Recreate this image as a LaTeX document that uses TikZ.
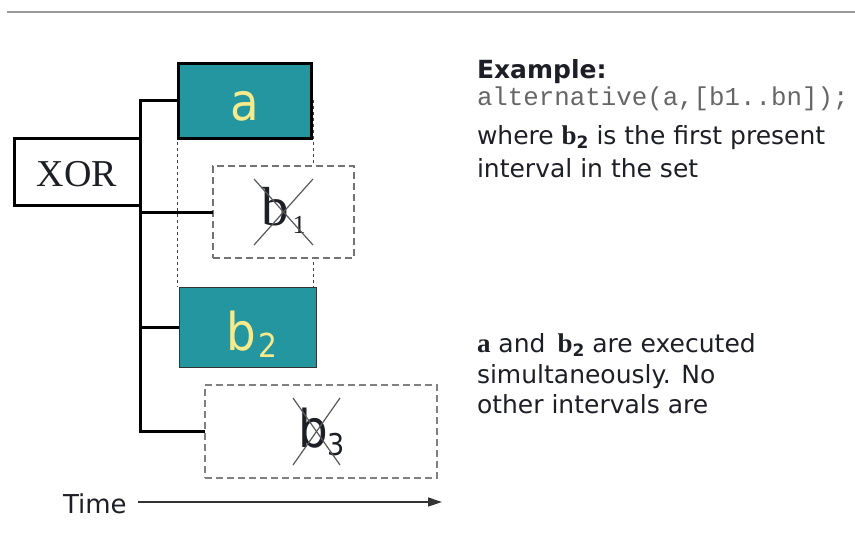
\documentclass[tikz,border=0pt]{standalone}
\usepackage{fontspec}
\setmainfont{DejaVu Sans}
\newfontfamily\narrowface{DejaVu Sans Condensed}
\newfontfamily\serifface{Liberation Serif}
\newfontfamily\monoface{Liberation Mono}
\usetikzlibrary{arrows.meta}
\definecolor{tealfill}{RGB}{36,150,160}
\definecolor{palelabel}{RGB}{245,234,140}
\definecolor{ink}{RGB}{30,30,38}
\newcommand{\fsz}[1]{\fontsize{#1}{#1}\selectfont}
\begin{document}
\begin{tikzpicture}[x=1pt,y=-1pt,
  every node/.style={inner sep=0pt, outer sep=0pt},
  xorbox/.style={draw=black, line width=3pt, fill=white, minimum width=126pt, minimum height=67pt},
  livebox/.style={draw=black, fill=tealfill},
  deadbox/.style={draw=black!55, fill=white, line width=1.4pt, dash pattern=on 7pt off 4pt},
  conn/.style={draw=black, line width=3pt, line join=miter},
  guide/.style={draw=black!75, line width=0.9pt, dash pattern=on 3pt off 3pt},
  cross/.style={draw=black!65, line width=1.2pt},
  boxlabel/.style={text=palelabel, font=\narrowface\fsz{52}},
  txt/.style={anchor=base west, text=ink, font=\fsz{25}}
]
\useasboundingbox (0,0) rectangle (855,550);

% rule across the top
\draw[black!40, line width=2pt] (7,12) -- (855,12);

% dotted guides marking the extent of interval a
\draw[guide] (177.5,100) -- (177.5,287);
\draw[guide] (313,100) -- (313,287);

% operator and intervals
\node[xorbox] (xor) at (77,171.5) {};
\node[font=\serifface\fsz{38}, text=ink] at (77,174) {XOR};

\node[livebox, line width=3pt, minimum width=133pt, minimum height=75pt] (a) at (244.5,100.5) {};
\node[boxlabel] at (244.5,106) {a};

\node[deadbox, minimum width=141pt, minimum height=92pt] (b1) at (283.5,212) {};
\node[anchor=base west, text=ink, font=\serifface\fsz{55}] at (261,225) {b\hspace{4pt}\raisebox{-8pt}{\fsz{26}1}};
\draw[cross] (254,179) -- (313,245);
\draw[cross] (254,245) -- (313,179);

\node[livebox, line width=1pt, draw=black!80, minimum width=137pt, minimum height=80pt] (b2) at (247.5,327) {};
\node[anchor=base west, text=palelabel, font=\narrowface\fsz{52}] at (226,350) {b\hspace{3pt}\raisebox{-7pt}{\fsz{33}2}};

\node[deadbox, line width=1.8pt, draw=black!50, minimum width=232pt, minimum height=93pt] (b3) at (321,431.5) {};
\node[anchor=base west, text=ink, font=\narrowface\fsz{52}] at (298,447) {b\raisebox{-8pt}{\fsz{30}3}};
\draw[cross] (293,398) -- (340,465);
\draw[cross] (293,465) -- (340,398);

% connectors from the XOR operator to each interval
\draw[conn] (a.west) -| (xor.east |- b3.west) -- (b3.west);
\draw[conn] (b1.west) -- (b1.west -| xor.east);
\draw[conn] (b2.west) -- (b2.west -| xor.east);

% time axis
\node[txt, font=\fsz{26}] (time) at (63,513) {Time};
\coordinate (tstart) at (138,502);
\coordinate (tend) at (442,502);
\draw[black!80, line width=1.4pt, -{Triangle[length=14pt, width=9pt]}] (tstart) -- (tend);

% explanatory text
\node[txt, font=\bfseries\fsz{25}] at (477,78) {Example:};
\node[txt, text=black!60, font=\monoface\fsz{25.8}] at (477,105) {alternative(a,[b1..bn]);};
\node[txt] at (477,144) {where {\serifface\bfseries\fsz{27}b}\raisebox{-4pt}{\bfseries\fsz{17}2} is the first present};
\node[txt] at (477,177) {interval in the set};

\node[txt] at (477,352) {{\serifface\bfseries\fsz{27}a} and\, {\serifface\bfseries\fsz{27}b}\raisebox{-4pt}{\bfseries\fsz{17}2} are executed};
\node[txt] at (477,383) {simultaneously. No};
\node[txt] at (477,413) {other intervals are};
\end{tikzpicture}
\end{document}
